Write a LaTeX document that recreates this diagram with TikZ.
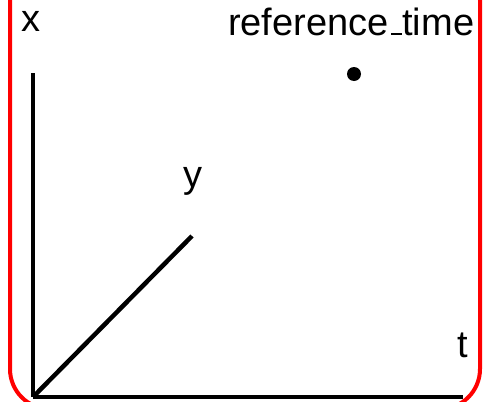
\documentclass[tikz,border=0pt]{standalone}
\usepackage{fontspec}
\setmainfont{Liberation Sans}
\newcommand{\shortus}{\leavevmode\kern.06em\vbox{\hrule width.3em height 2.5pt}}
\begin{document}
\begin{tikzpicture}[x=1pt,y=1pt,
  axis/.style={line width=4.5pt, black},
  lbl/.style={font=\fontsize{38}{44}\selectfont, inner sep=0pt}]
\useasboundingbox (0,0) rectangle (483,-402);
\clip (0,0) rectangle (483,-402);
\draw[red, line width=4pt, rounded corners=40pt] (10,40) rectangle (480,-409);
\coordinate (O) at (33,-397);
\coordinate (X) at (33,-73);
\coordinate (T) at (463,-397);
\coordinate (Y) at (192,-236);
\draw[axis] (O) -- (X);
\draw[axis] (O) -- (T);
\draw[axis] (O) -- (Y);
\node[lbl, anchor=base] (xl) at (31,-31) {x};
\node[lbl, anchor=base] (tl) at (462.5,-357) {t};
\node[lbl, anchor=base] (yl) at (192.5,-187) {y};
\node[lbl, anchor=base west] (rl) at (228,-35) {reference\shortus time};
\node[circle, fill=black, inner sep=0pt, minimum size=14pt] (dot) at (354,-74) {};
\end{tikzpicture}
\end{document}
